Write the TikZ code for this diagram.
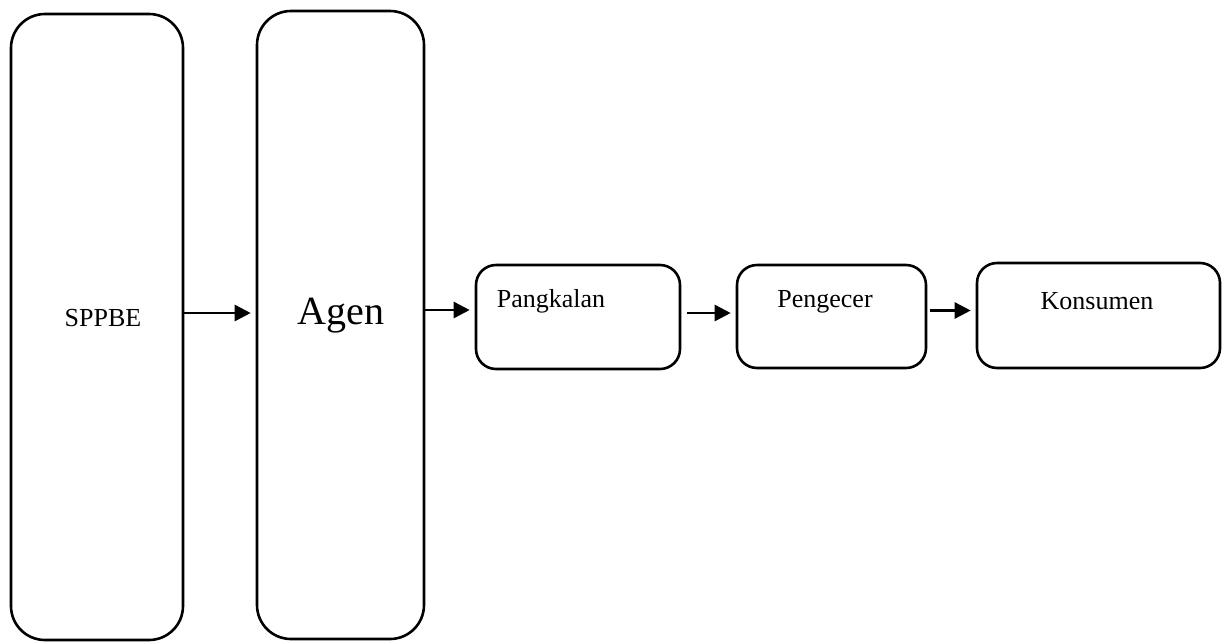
\documentclass[tikz,border=0pt]{standalone}
\usepackage{fontspec}
\setmainfont{Liberation Serif}
\usetikzlibrary{arrows.meta}

\begin{document}
\begin{tikzpicture}[x=1pt,y=-1pt,
  tallbox/.style={draw,line width=2.6pt,rounded corners=34pt,inner sep=0pt},
  smallbox/.style={draw,line width=2.6pt,rounded corners=20pt,inner sep=0pt},
  lbl/.style={inner sep=0pt,font=\fontsize{26}{30}\selectfont},
  arr/.style={line width=2.6pt,-{Triangle[length=16pt,width=16pt]},shorten >=5pt}]
\useasboundingbox (0,0) rectangle (1222,643);
\node[tallbox,minimum width=172pt,minimum height=626pt] (sppbe) at (97,327) {};
\node[tallbox,minimum width=167pt,minimum height=628pt] (agen) at (340.5,325) {};
\node[smallbox,minimum width=204pt,minimum height=104pt] (pangkalan) at (578,317) {};
\node[smallbox,minimum width=189pt,minimum height=103pt] (pengecer) at (831.5,316.5) {};
\node[smallbox,minimum width=243pt,minimum height=105pt] (konsumen) at (1098.5,315.5) {};
\node[lbl] (tsppbe) at (103,318) {SPPBE};
\node[lbl,font=\fontsize{40}{46}\selectfont] (tagen) at (341,316) {Agen};
\node[lbl] (tpangkalan) at (551,301) {Pangkalan};
\node[lbl] (tpengecer) at (825,302) {Pengecer};
\node[lbl] (tkonsumen) at (1097,301) {Konsumen};
\draw[arr] ([yshift=14pt]sppbe.east) -- ([yshift=14pt]sppbe.east -| agen.west);
\draw[arr] ([yshift=7pt]agen.east |- pangkalan.west) -- ([yshift=7pt]pangkalan.west);
\draw[arr,shorten <=6pt] ([yshift=4pt]pangkalan.east) -- ([yshift=4pt]pangkalan.east -| pengecer.west);
\draw[arr,shorten <=3pt] ([yshift=6pt]pengecer.east) -- ([yshift=6pt]pengecer.east -| konsumen.west);
\end{tikzpicture}
\end{document}
